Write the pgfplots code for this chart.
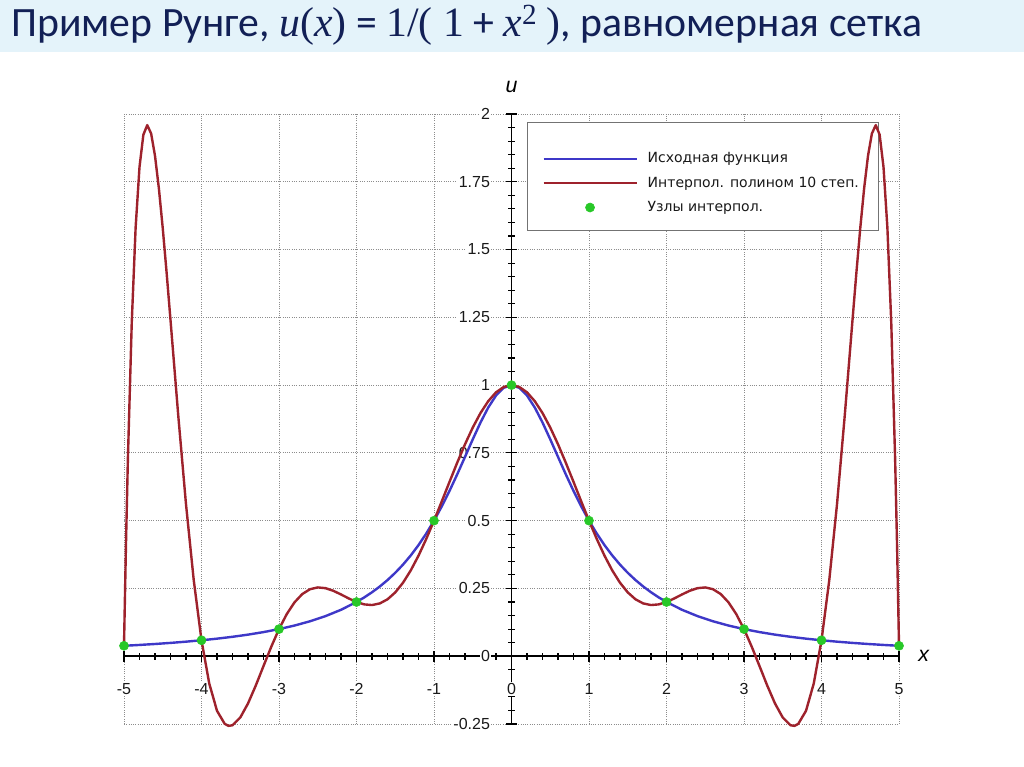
\documentclass[border=0pt]{standalone}
\usepackage{fontspec}
\setmainfont{Carlito}
\newfontfamily\tmfont{Liberation Serif}
\newfontfamily\arialfont{Liberation Sans}
\newfontfamily\verdfont{DejaVu Sans}
\usepackage{pgfplots}
\pgfplotsset{compat=1.18}

\definecolor{bandblue}{RGB}{228,243,250}
\definecolor{titlenavy}{RGB}{18,32,86}
\definecolor{runblue}{RGB}{62,56,200}
\definecolor{runred}{RGB}{158,34,44}
\definecolor{nodegreen}{RGB}{40,200,40}
\definecolor{gridgray}{RGB}{140,140,140}

\pgfplotsset{
  linelegend/.style={legend image code/.code={\draw[##1] (0pt,0pt) -- (69.75pt,0pt);}},
  nodelegend/.style={legend image code/.code={\path[draw=none, fill=none] (0pt,-1pt) rectangle (69.75pt,1pt);
    \draw[mark repeat=2, mark phase=2, ##1] plot coordinates {(0pt,0pt) (34.9pt,0pt) (69.75pt,0pt)};}},
}

\begin{document}
\begin{tikzpicture}[x=1pt,y=1pt]
% slide background and title band (1px = 0.75pt)
\fill[white] (0,0) rectangle (768,575.25);
\fill[bandblue] (0,536.25) rectangle (768,575.25);
\node[anchor=base west, inner sep=0pt, text=titlenavy, font=\fontsize{31.3}{36}\selectfont]
  at (8.25,547.5) {Пример Рунге, {\tmfont\itshape u}{\tmfont(}{\tmfont\itshape x}{\tmfont)} = {\tmfont 1/( 1} + {\tmfont\itshape x}\textsuperscript{\tmfont 2} {\tmfont )}, равномерная сетка};

\begin{axis}[
  at={(93pt,32.25pt)}, anchor=south west,
  scale only axis, width=581.25pt, height=457.5pt,
  xmin=-5, xmax=5, ymin=-0.25, ymax=2,
  axis lines=middle,
  axis line style={-, black, line width=1.2pt},
  clip=false,
  hide obscured x ticks=false, hide obscured y ticks=false,
  xtick={-5,-4,-3,-2,-1,0,1,2,3,4,5},
  xticklabels={-5,-4,-3,-2,-1,0,1,2,3,4,5},
  ytick={-0.25,0,0.25,0.5,0.75,1,1.25,1.5,1.75,2},
  yticklabels={-0.25,0,0.25,0.5,0.75,1,1.25,1.5,1.75,2},
  minor x tick num=4, minor y tick num=4,
  tick align=center,
  major tick length=8pt, minor tick length=5pt,
  tick style={black, line width=0.9pt},
  grid=major,
  major grid style={gridgray, line width=0.6pt, dash pattern=on 0.6pt off 1.1pt},
  tick label style={fill=white, inner sep=1pt, text=black!90,
    font=\arialfont\fontsize{12}{13}\selectfont},
  xticklabel style={yshift=-15.5pt},
  yticklabel style={xshift=-11pt},
  xlabel={x}, ylabel={u},
  every axis x label/.style={at={(axis cs:5.32,0)}, anchor=center,
    font=\arialfont\itshape\fontsize{16}{18}\selectfont},
  every axis y label/.style={at={(axis cs:0,2.1)}, anchor=center,
    font=\arialfont\itshape\fontsize{16}{18}\selectfont},
  linelegend,
  legend style={at={(axis cs:0.394,1.859)}, anchor=north west,
    draw=none, fill=none, inner sep=0pt,
    nodes={inner sep=0pt, text depth=0.2em},
    column sep=7.5pt, row sep=8.5pt,
    font=\verdfont\fontsize{10.5}{12}\selectfont, text=black!90},
  legend cell align=left,
]
% legend frame
\draw[black!55, line width=0.7pt, fill=white] (axis cs:0.2,1.9705) rectangle (axis cs:4.729,1.572);

\addplot[runblue, line width=1.8pt] coordinates {
(-5,0.03846) (-4.8,0.04160) (-4.6,0.04511) (-4.4,0.04912) (-4.2,0.05365) (-4,0.05882)
(-3.8,0.06477) (-3.6,0.07163) (-3.4,0.07962) (-3.2,0.08897) (-3,0.1)
(-2.8,0.11312) (-2.6,0.12887) (-2.4,0.14793) (-2.2,0.17123) (-2,0.2)
(-1.9,0.21692) (-1.8,0.23585) (-1.7,0.25707) (-1.6,0.28090) (-1.5,0.30769)
(-1.4,0.33784) (-1.3,0.37175) (-1.2,0.40984) (-1.1,0.45249) (-1,0.5)
(-0.9,0.55249) (-0.8,0.60976) (-0.7,0.67114) (-0.6,0.73529) (-0.5,0.8)
(-0.4,0.86207) (-0.3,0.91743) (-0.2,0.96154) (-0.1,0.99010) (0,1)
(0.1,0.99010) (0.2,0.96154) (0.3,0.91743) (0.4,0.86207) (0.5,0.8)
(0.6,0.73529) (0.7,0.67114) (0.8,0.60976) (0.9,0.55249) (1,0.5)
(1.1,0.45249) (1.2,0.40984) (1.3,0.37175) (1.4,0.33784) (1.5,0.30769)
(1.6,0.28090) (1.7,0.25707) (1.8,0.23585) (1.9,0.21692) (2,0.2)
(2.2,0.17123) (2.4,0.14793) (2.6,0.12887) (2.8,0.11312) (3,0.1)
(3.2,0.08897) (3.4,0.07962) (3.6,0.07163) (3.8,0.06477) (4,0.05882)
(4.2,0.05365) (4.4,0.04912) (4.6,0.04511) (4.8,0.04160) (5,0.03846)
};
\addlegendentry{Исходная функция}

\addplot[runred, line width=1.8pt, line join=round] coordinates {
(-5,0.03846) (-4.975,0.40718) (-4.95,0.72607) (-4.9,1.23031) (-4.85,1.58097) (-4.8,1.80440)
(-4.75,1.92363) (-4.7,1.95895) (-4.65,1.92796) (-4.6,1.84585) (-4.55,1.72572) (-4.5,1.57872)
(-4.45,1.41429) (-4.4,1.24021) (-4.3,0.88808) (-4.2,0.56044) (-4.1,0.28022) (-4,0.05882)
(-3.9,-0.10072) (-3.8,-0.20130) (-3.7,-0.24961) (-3.65,-0.25692) (-3.6,-0.25460) (-3.5,-0.22620)
(-3.4,-0.17434) (-3.3,-0.10832) (-3.2,-0.03632) (-3.1,0.03487) (-3,0.1)
(-2.9,0.15536) (-2.8,0.19873) (-2.7,0.22923) (-2.6,0.24715) (-2.5,0.25376)
(-2.4,0.25102) (-2.3,0.24145) (-2.2,0.22784) (-2.1,0.21309) (-2,0.2)
(-1.9,0.19116) (-1.8,0.18878) (-1.7,0.19462) (-1.6,0.20991) (-1.5,0.23535)
(-1.4,0.27102) (-1.3,0.31651) (-1.2,0.37083) (-1.1,0.43260) (-1,0.5)
(-0.9,0.57095) (-0.8,0.64316) (-0.7,0.71423) (-0.6,0.78175) (-0.5,0.84341)
(-0.4,0.89708) (-0.3,0.94090) (-0.2,0.97335) (-0.1,0.99328) (0,1)
(0.1,0.99328) (0.2,0.97335) (0.3,0.94090) (0.4,0.89708) (0.5,0.84341)
(0.6,0.78175) (0.7,0.71423) (0.8,0.64316) (0.9,0.57095) (1,0.5)
(1.1,0.43260) (1.2,0.37083) (1.3,0.31651) (1.4,0.27102) (1.5,0.23535)
(1.6,0.20991) (1.7,0.19462) (1.8,0.18878) (1.9,0.19116) (2,0.2)
(2.1,0.21309) (2.2,0.22784) (2.3,0.24145) (2.4,0.25102) (2.5,0.25376)
(2.6,0.24715) (2.7,0.22923) (2.8,0.19873) (2.9,0.15536) (3,0.1)
(3.1,0.03487) (3.2,-0.03632) (3.3,-0.10832) (3.4,-0.17434) (3.5,-0.22620)
(3.6,-0.25460) (3.65,-0.25692) (3.7,-0.24961) (3.8,-0.20130) (3.9,-0.10072) (4,0.05882)
(4.1,0.28022) (4.2,0.56044) (4.3,0.88808) (4.4,1.24021) (4.45,1.41429) (4.5,1.57872)
(4.55,1.72572) (4.6,1.84585) (4.65,1.92796) (4.7,1.95895) (4.75,1.92363) (4.8,1.80440)
(4.85,1.58097) (4.9,1.23031) (4.95,0.72607) (4.975,0.40718) (5,0.03846)
};
\addlegendentry{Интерпол. полином 10 степ.}

\addplot[only marks, mark=*, mark size=3.4pt, nodegreen, nodelegend]
  coordinates {
(-5,0.03846) (-4,0.05882) (-3,0.1) (-2,0.2) (-1,0.5) (0,1)
(1,0.5) (2,0.2) (3,0.1) (4,0.05882) (5,0.03846)
};
\addlegendentry{Узлы интерпол.}
\end{axis}

\pgfresetboundingbox
\path (0,0) rectangle (768,575.25);
\end{tikzpicture}
\end{document}
